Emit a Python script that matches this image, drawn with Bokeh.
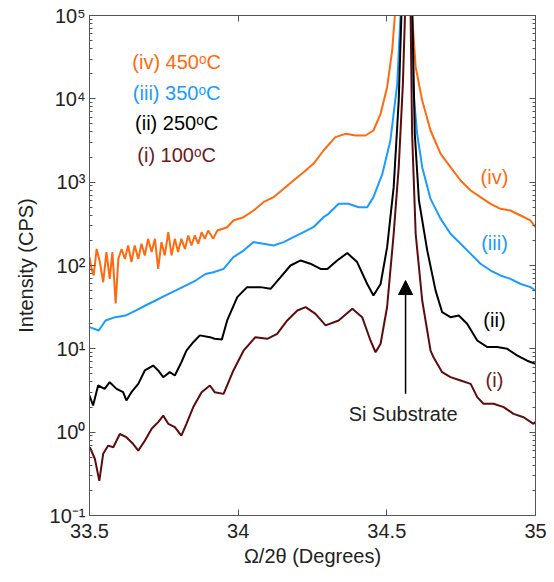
from bokeh.plotting import figure
from bokeh.models import (LogAxis, LinearAxis, Label, Arrow, NormalHead, FixedTicker,
                          CustomJSTickFormatter, Range1d, LogTicker)
from bokeh.embed import file_html
from bokeh.resources import INLINE

# ---------------- data ----------------
x_i = [33.501, 33.518, 33.533, 33.546, 33.563, 33.580, 33.602, 33.624, 33.647, 33.664,
       33.686, 33.709, 33.731, 33.748, 33.765, 33.787, 33.809, 33.826, 33.849, 33.877,
       33.905, 33.921, 33.951, 33.984, 34.018, 34.058,
       34.098, 34.131, 34.165, 34.199, 34.227, 34.260, 34.294, 34.338, 34.384, 34.417,
       34.445, 34.462, 34.479, 34.501, 34.523, 34.540, 34.554, 34.561, 34.570, 34.580,
       34.585, 34.597, 34.619, 34.647, 34.657, 34.686, 34.714, 34.748, 34.782, 34.804,
       34.825, 34.859, 34.893, 34.926, 34.960, 34.993, 35.000]
y_i = [0.66, 0.48, 0.26, 0.55, 0.69, 0.66, 0.95, 0.87, 0.72, 0.60,
       0.79, 1.10, 1.32, 1.58, 1.26, 1.15, 0.91, 1.26, 2.0, 3.02,
       3.63, 3.02, 2.88, 5.5, 9.5, 13.8,
       13.2, 15.1, 21.9, 28.8, 31.6, 26.3, 19.1, 21.9, 30.2, 24.0,
       12.6, 9.1, 11.5, 32.0, 240, 1514, 15100, 1e5, 1e6, 1e5,
       3802, 240, 38, 9.5, 7.9, 5.25, 4.57, 4.17, 3.8, 2.63,
       2.19, 2.19, 2.0, 1.66, 1.51, 1.26, 1.32]

x_ii = [33.500, 33.512, 33.529, 33.551, 33.568, 33.591, 33.613, 33.624, 33.641, 33.664,
        33.686, 33.714, 33.731, 33.748, 33.770, 33.787, 33.809, 33.826, 33.849, 33.871,
        33.905, 33.921, 33.945, 33.963, 33.997, 34.030,
        34.075, 34.109, 34.142, 34.176, 34.210, 34.243, 34.277, 34.300, 34.333, 34.367,
        34.400, 34.434, 34.455, 34.479, 34.501, 34.523, 34.540, 34.549, 34.568, 34.586,
        34.594, 34.608, 34.636, 34.664, 34.681, 34.686, 34.714, 34.742, 34.770, 34.804,
        34.838, 34.871, 34.905, 34.939, 34.972, 35.000]
y_ii = [2.75, 2.09, 3.63, 3.31, 3.98, 3.31, 3.02, 2.4, 3.02, 3.8,
        5.5, 6.3, 5.5, 4.57, 5.25, 4.79, 6.9, 9.5, 12.0, 14.5,
        13.8, 13.2, 12.9, 21.9, 41.7, 55,
        55, 52.5, 72, 100, 115, 105, 91, 91, 115, 141,
        110, 60, 43.7, 60, 166, 871, 9550, 1e5, 1e6, 1e5,
        3802, 603, 151, 50, 31.6, 27.5, 24, 25.1, 20, 12.6,
        10.5, 10.5, 10, 8.3, 7.2, 6.6]

x_iii = [33.500, 33.531, 33.554, 33.587, 33.621, 33.655, 33.688, 33.722, 33.756, 33.789,
         33.823, 33.857, 33.890, 33.917, 33.951, 33.984, 34.018, 34.052, 34.085, 34.119,
         34.153, 34.186, 34.220, 34.253, 34.287, 34.304, 34.338, 34.371, 34.405, 34.434,
         34.455, 34.485, 34.512, 34.535, 34.546, 34.566, 34.583, 34.587, 34.602, 34.619,
         34.647, 34.681, 34.714, 34.748, 34.782, 34.815, 34.849, 34.882, 34.916, 34.950,
         34.983, 35.000]
y_iii = [18.2, 16.6, 21.9, 24, 25.1, 28.8, 33.1, 38, 43.7, 50,
         57.5, 66, 79, 83, 91, 126, 151, 191, 182, 174,
         191, 219, 251, 288, 380, 417, 550, 550, 501, 501,
         661, 1259, 3162, 15100, 1e5, 1e6, 1e5, 15100, 3802, 1514,
         630, 363, 240, 182, 138, 105, 87, 76, 69, 60,
         55, 50]

x_iv = [33.500, 33.507, 33.514, 33.524, 33.535, 33.546, 33.557, 33.568, 33.577, 33.588,
        33.597, 33.608, 33.619, 33.630, 33.641, 33.652, 33.664, 33.675, 33.686, 33.697,
        33.709, 33.720, 33.731, 33.742, 33.753, 33.765, 33.776, 33.787, 33.798, 33.809,
        33.821, 33.832, 33.843, 33.854, 33.866, 33.877, 33.888, 33.899, 33.916,
        33.930, 33.963, 33.984, 34.018, 34.052, 34.085, 34.119, 34.153, 34.186,
        34.220, 34.253, 34.287, 34.327, 34.361, 34.395, 34.428, 34.455, 34.479, 34.501,
        34.518, 34.527, 34.556, 34.585, 34.597, 34.619, 34.647, 34.681, 34.714, 34.748,
        34.782, 34.815, 34.849, 34.882, 34.916, 34.950, 34.983, 35.000]
y_iv = [126, 91, 76, 158, 110, 63, 145, 69, 145, 35,
        120, 158, 120, 174, 110, 174, 120, 182, 132, 209,
        145, 209, 91, 191, 132, 251, 132, 209, 145, 209,
        158, 229, 174, 229, 182, 251, 209, 263, 209,
        263, 288, 347, 380, 457, 575, 661, 832, 1047,
        1318, 1660, 2399, 3467, 3802, 3631, 3631, 4169, 6607, 13800,
        38000, 1e5, 1e6, 1e5, 24000, 9550, 4169, 2188, 1514, 1047,
        794, 661, 550, 479, 457, 398, 347, 288]

names_left = ["(iv) 450\u1d52C", "(iii) 350\u1d52C", "(ii) 250\u1d52C", "(i) 100\u1d52C"]
names_right = ["(iv)", "(iii)", "(ii)", "(i)"]
x_ticks = [33.5, 34, 34.5, 35]

ORANGE = "#ff6a0f"
BLUE = "#1a9cff"
BLACK = "#000000"
BROWN = "#5e0b0b"
FONT = "Liberation Sans"
FS = "20px"

p = figure(frame_width=446, frame_height=500, y_axis_type="log",
           x_range=Range1d(33.5, 35), y_range=Range1d(0.1, 1e5),
           output_backend="svg", toolbar_location=None,
           min_border_left=89, min_border_right=12, min_border_top=15,
           min_border_bottom=62)
p.grid.visible = False
p.outline_line_color = "#555555"
p.background_fill_color = "white"
p.border_fill_color = "white"

for xs, ys, c in [(x_iv, y_iv, ORANGE), (x_iii, y_iii, BLUE),
                  (x_ii, y_ii, BLACK), (x_i, y_i, BROWN)]:
    p.line(xs, ys, line_color=c, line_width=2)

sup_js = """
const m = {"0":"\u2070","1":"\u00b9","2":"\u00b2","3":"\u00b3","4":"\u2074","5":"\u2075",
           "6":"\u2076","7":"\u2077","8":"\u2078","9":"\u2079","-":"\u207b"};
const e = Math.round(Math.log10(tick));
return "10" + String(e).split("").map(c => m[c]).join("");
"""
blank_js = "return '';"

# axes styling
xa = p.xaxis[0]
xa.ticker = FixedTicker(ticks=x_ticks)
ya = p.yaxis[0]
ya.ticker = LogTicker(num_minor_ticks=10)
ya.formatter = CustomJSTickFormatter(code=sup_js)
for ax in (xa, ya):
    ax.axis_line_color = "#555555"
    ax.major_tick_line_color = "#555555"
    ax.minor_tick_line_color = "#555555"
    ax.major_tick_in = 6
    ax.major_tick_out = 0
    ax.minor_tick_in = 3
    ax.minor_tick_out = 0
    ax.major_label_text_font = FONT
    ax.major_label_text_font_size = FS
    ax.major_label_text_color = "#222222"
    ax.axis_label_text_font = FONT
    ax.axis_label_text_font_size = FS
    ax.axis_label_text_font_style = "normal"
    ax.axis_label_text_color = "#222222"
xa.minor_tick_line_color = None
xa.major_label_standoff = 8
xa.axis_label_standoff = 4
xa.axis_label = "\u03a9/2\u03b8 (Degrees)"
ya.major_label_standoff = 4
ya.axis_label_standoff = 10
ya.axis_label = "Intensity (CPS)"

ra = LogAxis(ticker=LogTicker(num_minor_ticks=10), formatter=CustomJSTickFormatter(code=blank_js),
             axis_line_color="#555555", major_tick_line_color="#555555",
             minor_tick_line_color="#555555", major_tick_in=6, major_tick_out=0,
             minor_tick_in=3, minor_tick_out=0, major_label_standoff=0)
p.add_layout(ra, "right")
ta = LinearAxis(ticker=FixedTicker(ticks=x_ticks), formatter=CustomJSTickFormatter(code=blank_js),
                axis_line_color="#555555", major_tick_line_color="#555555",
                minor_tick_line_color=None, major_tick_in=6, major_tick_out=0,
                major_label_standoff=0)
p.add_layout(ta, "above")

# text annotations
left_colors = [ORANGE, BLUE, BLACK, "#6e1a1a"]
left_y = [27300, 11900, 5060, 2090]
for t, c, yy in zip(names_left, left_colors, left_y):
    p.add_layout(Label(x=33.793, y=yy, text=t, text_color=c, text_font=FONT,
                       text_font_size=FS, text_align="center", text_baseline="middle"))
right_y = [1140, 184, 21.9, 4.17]
for t, c, yy in zip(names_right, left_colors, right_y):
    p.add_layout(Label(x=34.862, y=yy, text=t, text_color=c, text_font=FONT,
                       text_font_size=FS, text_align="center", text_baseline="middle"))

p.add_layout(Label(x=34.555, y=1.67, text="Si Substrate", text_color="#222222",
                   text_font=FONT, text_font_size=FS, text_align="center",
                   text_baseline="middle"))
p.add_layout(Arrow(end=NormalHead(size=14, fill_color="black", line_color="black"),
                   x_start=34.563, y_start=2.9, x_end=34.563, y_end=66,
                   line_color="black", line_width=1.5))

open("out.html", "w").write(file_html(p, INLINE))
